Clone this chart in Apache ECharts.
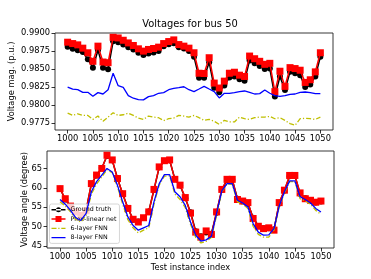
<!DOCTYPE html>
<html><head><meta charset="utf-8">
<script src="https://cdn.jsdelivr.net/npm/echarts@6/dist/echarts.min.js"></script>
<style>html,body{margin:0;padding:0;background:#fff}#c{width:371px;height:279px}</style>
</head><body><div id="c"></div>
<script>
const instances = [1000,1001,1002,1003,1004,1005,1006,1007,1008,1009,1010,1011,1012,1013,1014,1015,1016,1017,1018,1019,1020,1021,1022,1023,1024,1025,1026,1027,1028,1029,1030,1031,1032,1033,1034,1035,1036,1037,1038,1039,1040,1041,1042,1043,1044,1045,1046,1047,1048,1049,1050];
const xTicks = [1000,1005,1010,1015,1020,1025,1030,1035,1040,1045,1050];
const magTicks = [0.9775,0.9800,0.9825,0.9850,0.9875,0.9900];
const angTicks = [45,50,55,60,65];

const magTruth = [0.98807,0.98780,0.98761,0.98734,0.98633,0.98518,0.98761,0.98518,0.98495,0.98885,0.98872,0.98839,0.98803,0.98771,0.98725,0.98693,0.98716,0.98729,0.98748,0.98817,0.98844,0.98858,0.98803,0.98784,0.98748,0.98670,0.98376,0.98376,0.98592,0.98239,0.98174,0.98271,0.98381,0.98395,0.98358,0.98335,0.98619,0.98578,0.98541,0.98500,0.98505,0.98115,0.98395,0.98206,0.98459,0.98440,0.98413,0.98248,0.98284,0.98395,0.98670];
const magProx = [0.98872,0.98853,0.98835,0.98789,0.98725,0.98606,0.98817,0.98596,0.98587,0.98940,0.98931,0.98899,0.98862,0.98826,0.98780,0.98748,0.98771,0.98784,0.98803,0.98853,0.98881,0.98904,0.98839,0.98817,0.98789,0.98725,0.98440,0.98436,0.98656,0.98303,0.98234,0.98330,0.98440,0.98454,0.98413,0.98395,0.98679,0.98642,0.98606,0.98564,0.98578,0.98184,0.98468,0.98257,0.98518,0.98505,0.98482,0.98312,0.98349,0.98459,0.98725];
const magFnn6 = [0.97885,0.97853,0.97876,0.97853,0.97853,0.97798,0.97844,0.97771,0.97830,0.97890,0.97853,0.97862,0.97885,0.97853,0.97817,0.97798,0.97844,0.97830,0.97821,0.97780,0.97807,0.97817,0.97853,0.97844,0.97830,0.97853,0.97821,0.97784,0.97798,0.97771,0.97729,0.97784,0.97762,0.97762,0.97830,0.97807,0.97798,0.97821,0.97830,0.97830,0.97839,0.97807,0.97821,0.97784,0.97739,0.97716,0.97807,0.97812,0.97807,0.97798,0.97830];
const magFnn8 = [0.98248,0.98220,0.98211,0.98174,0.98174,0.98119,0.98170,0.98151,0.98211,0.98440,0.98266,0.98243,0.98128,0.98092,0.98073,0.98069,0.98115,0.98128,0.98161,0.98170,0.98211,0.98229,0.98239,0.98252,0.98211,0.98184,0.98220,0.98257,0.98220,0.98184,0.98096,0.98161,0.98161,0.98170,0.98184,0.98193,0.98174,0.98151,0.98156,0.98206,0.98161,0.98128,0.98119,0.98128,0.98147,0.98151,0.98174,0.98179,0.98170,0.98156,0.98156];

const angTruth = [59.8,57.0,55.2,53.9,53.0,54.3,61.0,63.2,65.1,68.2,67.1,62.5,58.4,54.8,51.8,51.3,52.2,53.9,59.5,65.3,66.9,67.1,62.3,60.6,57.3,53.7,48.8,47.5,48.5,48.2,53.6,59.5,62.0,62.1,57.2,56.5,56.0,52.3,50.2,49.6,49.6,49.3,56.0,59.3,63.0,63.1,58.5,57.3,56.7,56.2,56.5];
const angProx = [59.8,57.2,55.3,53.8,52.9,54.1,61.1,63.3,65.0,68.4,67.2,62.4,58.5,54.7,51.9,51.2,52.3,53.8,59.6,65.4,67.0,67.2,62.2,60.7,57.5,53.5,48.6,47.3,48.9,48.0,53.8,59.6,62.2,62.2,57.0,56.6,56.2,52.1,50.1,49.5,49.7,49.1,56.2,59.4,63.2,63.2,58.7,57.2,56.8,56.3,56.6];
const angFnn6 = [56.4,55.3,53.8,51.9,51.2,52.9,58.4,61.0,62.8,64.7,63.9,60.3,55.8,51.8,49.7,48.4,49.1,49.7,55.8,60.7,63.0,63.1,58.4,57.0,54.9,50.6,47.2,45.8,46.2,47.2,52.9,59.0,61.0,60.9,56.4,55.8,54.7,50.1,48.0,47.3,47.3,49.1,55.1,58.7,61.6,61.6,57.2,56.6,55.8,54.2,53.2];
const angFnn8 = [57.0,55.8,54.2,52.3,51.6,53.4,59.0,61.6,63.3,65.0,64.1,60.7,56.4,52.5,50.3,49.1,49.7,50.3,56.4,61.1,63.4,63.4,59.0,57.7,55.5,51.2,47.8,46.3,46.6,47.5,53.4,59.2,61.1,61.1,56.8,56.1,55.1,50.8,48.6,47.8,47.9,49.5,55.3,59.0,61.8,61.8,57.7,57.0,56.1,54.7,53.8];

const seriesNames = ['Ground truth','Prox-linear net','6-layer FNN','8-layer FNN'];

const FONT = 'DejaVu Sans';
const FS = 8.3;
const pair = (xs, ys) => xs.map((x, i) => [x, ys[i]]);

// legend icons (14 x 7 box): line sample with optional marker
const ICON_CIRCLE = 'path://M0,0h0.01v0.01h-0.01z M14,7h-0.01v-0.01h0.01z M0,2.8h14v1.4h-14z M9.5,3.5a2.5,2.5 0 1 0 -5,0a2.5,2.5 0 1 0 5,0z';
const ICON_SQUARE = 'path://M0,0h0.01v0.01h-0.01z M14,7h-0.01v-0.01h0.01z M0,2.8h14v1.4h-14z M4,0.5h6v6h-6z';
const ICON_DASHDOT = 'path://M0,0h0.01v0.01h-0.01z M14,7h-0.01v-0.01h0.01z M0,2.85h5h-0v1.3h-5z M6.8,2.85h1.2v1.3h-1.2z M9.8,2.85h4.2v1.3h-4.2z';
const ICON_LINE = 'path://M0,0h0.01v0.01h-0.01z M14,7h-0.01v-0.01h0.01z M0,2.85h14v1.3h-14z';

const chart = echarts.init(document.getElementById('c'), null, {renderer: 'canvas'});

function xAxisCfg(gridIndex, withName) {
  return {
    type: 'value', gridIndex, min: 997.5, max: 1052.5,
    axisLine: {show: false},
    splitLine: {show: false},
    axisTick: {show: true, length: 3.5, customValues: xTicks, lineStyle: {color: '#000', width: 0.8}},
    axisLabel: {customValues: xTicks, color: '#000', fontFamily: FONT, fontSize: FS, margin: 4.5,
      showMinLabel: true, showMaxLabel: true, hideOverlap: false, formatter: v => String(v)},
    name: withName ? 'Test instance index' : '',
    nameLocation: 'middle', nameGap: 16, nameMoveOverlap: false,
    nameTextStyle: {color: '#000', fontFamily: FONT, fontSize: FS}
  };
}
function yAxisCfg(gridIndex, min, max, ticks, name, gap, fmt) {
  return {
    type: 'value', gridIndex, min, max,
    axisLine: {show: false},
    splitLine: {show: false},
    axisTick: {show: true, length: 3.5, customValues: ticks, lineStyle: {color: '#000', width: 0.8}},
    axisLabel: {customValues: ticks, color: '#000', fontFamily: FONT, fontSize: FS, margin: 5, formatter: fmt,
      showMinLabel: true, showMaxLabel: true, hideOverlap: false},
    name, nameLocation: 'middle', nameGap: gap, nameMoveOverlap: false,
    nameTextStyle: {color: '#000', fontFamily: FONT, fontSize: FS}
  };
}

function mkSeries(idx) {
  const truth = idx === 0 ? magTruth : angTruth;
  const prox = idx === 0 ? magProx : angProx;
  const f6 = idx === 0 ? magFnn6 : angFnn6;
  const f8 = idx === 0 ? magFnn8 : angFnn8;
  return [
    {name: seriesNames[0], type: 'line', xAxisIndex: idx, yAxisIndex: idx, data: pair(instances, truth),
     symbol: 'circle', symbolSize: 6, showAllSymbol: true, color: '#000000',
     lineStyle: {color: '#000000', width: 1.5}, itemStyle: {color: '#000000'}, z: 2, animation: false},
    {name: seriesNames[1], type: 'line', xAxisIndex: idx, yAxisIndex: idx, data: pair(instances, prox),
     symbol: 'rect', symbolSize: 7, showAllSymbol: true, color: '#ff0000',
     lineStyle: {color: '#ff0000', width: 1.5}, itemStyle: {color: '#ff0000'}, z: 3, animation: false},
    {name: seriesNames[2], type: 'line', xAxisIndex: idx, yAxisIndex: idx, data: pair(instances, f6),
     symbol: 'none', color: '#bfbf00',
     lineStyle: {color: '#bfbf00', width: 1.3, type: [5, 2, 1.2, 2]}, z: 4, animation: false},
    {name: seriesNames[3], type: 'line', xAxisIndex: idx, yAxisIndex: idx, data: pair(instances, f8),
     symbol: 'none', color: '#0000ff',
     lineStyle: {color: '#0000ff', width: 1.3}, z: 5, animation: false}
  ];
}

chart.setOption({
  animation: false,
  backgroundColor: '#ffffff',
  title: {text: 'Voltages for bus 50', left: 190, top: 19, textAlign: 'center', padding: 0,
    textStyle: {color: '#000', fontFamily: FONT, fontSize: 9.9, fontWeight: 'normal'}},
  grid: [
    {left: 47, top: 33, width: 286, height: 97, show: true, borderColor: '#222', borderWidth: 0.9, backgroundColor: 'transparent'},
    {left: 47, top: 151, width: 287, height: 97, show: true, borderColor: '#222', borderWidth: 0.9, backgroundColor: 'transparent'}
  ],
  xAxis: [xAxisCfg(0, false), xAxisCfg(1, true)],
  yAxis: [
    yAxisCfg(0, 0.9765, 0.9900, magTicks, 'Voltage mag. (p.u.)', 39, v => v.toFixed(4)),
    yAxisCfg(1, 44.5, 69.5, angTicks, 'Voltage angle (degree)', 18, v => String(v))
  ],
  legend: {
    data: [
      {name: seriesNames[0], icon: ICON_CIRCLE, itemStyle: {color: '#000000'}},
      {name: seriesNames[1], icon: ICON_SQUARE, itemStyle: {color: '#ff0000'}},
      {name: seriesNames[2], icon: ICON_DASHDOT, itemStyle: {color: '#bfbf00'}},
      {name: seriesNames[3], icon: ICON_LINE, itemStyle: {color: '#0000ff'}}
    ],
    orient: 'vertical', left: 49.5, top: 204, itemGap: 1.8,
    itemWidth: 14, itemHeight: 7.5, padding: [2, 3, 2, 2],
    backgroundColor: 'rgba(255,255,255,0.8)', borderColor: '#cccccc', borderWidth: 0.8, borderRadius: 2,
    textStyle: {color: '#000', fontFamily: FONT, fontSize: 6.3, lineHeight: 7.5}
  },
  series: [...mkSeries(0), ...mkSeries(1)]
});
</script>
</body></html>
